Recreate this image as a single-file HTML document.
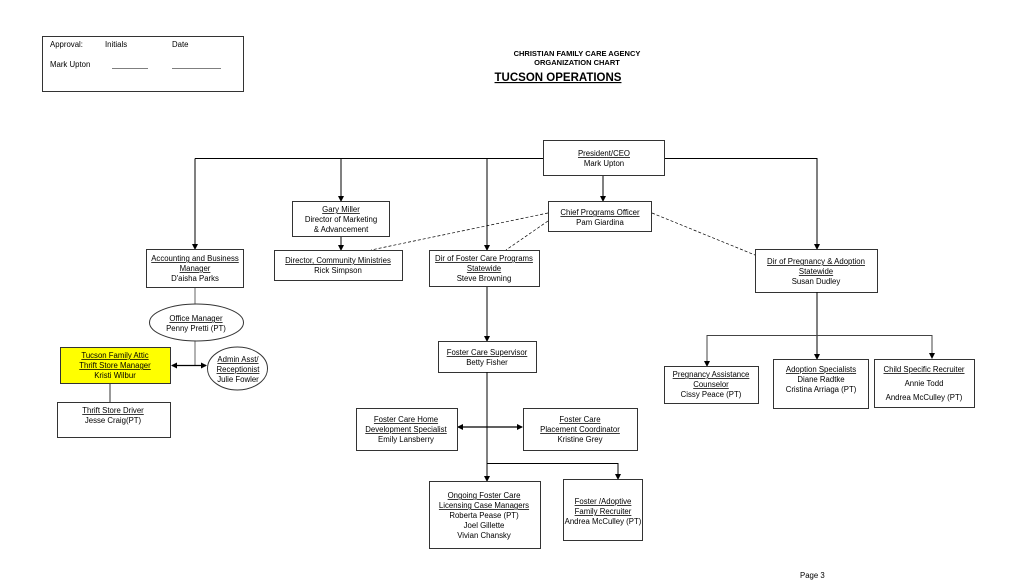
<!DOCTYPE html>
<html><head><meta charset="utf-8"><style>
html,body{margin:0;padding:0;background:#fff;}
svg{display:block;font-family:"Liberation Sans",Arial,sans-serif;}
text{font-size:7.8px;fill:#000;}
</style></head><body>
<svg width="1024" height="585" viewBox="0 0 1024 585" xmlns="http://www.w3.org/2000/svg">
<defs><marker id="a" markerWidth="6" markerHeight="6" refX="5" refY="3" orient="auto-start-reverse" markerUnits="userSpaceOnUse"><path d="M0,0 L6,3 L0,6 z" fill="#000"/></marker></defs>
<g fill="none" stroke="#000" stroke-width="1">
<rect x="42.5" y="36.5" width="201" height="55" stroke="#333"/>
<line x1="112" y1="68.5" x2="148" y2="68.5" stroke-width="0.6"/>
<line x1="172" y1="68.5" x2="221" y2="68.5" stroke-width="0.6"/>
<line x1="195" y1="158.5" x2="543" y2="158.5"/>
<polyline points="665,158.5 817,158.5 817,249" marker-end="url(#a)"/>
<line x1="195" y1="158.5" x2="195" y2="249" marker-end="url(#a)"/>
<line x1="341" y1="158.5" x2="341" y2="201" marker-end="url(#a)"/>
<line x1="487" y1="158.5" x2="487" y2="250" marker-end="url(#a)"/>
<line x1="603" y1="176" x2="603" y2="201" marker-end="url(#a)"/>
<line x1="341" y1="237" x2="341" y2="250" marker-end="url(#a)"/>
<line x1="487" y1="287" x2="487" y2="341" marker-end="url(#a)"/>
<g stroke-dasharray="3,2" stroke-width="0.7">
<line x1="548" y1="213" x2="371" y2="250"/>
<line x1="548" y1="221" x2="506" y2="250"/>
<line x1="652" y1="213" x2="755" y2="255"/>
</g>
<line x1="195" y1="287" x2="195" y2="304" stroke="#666"/>
<line x1="195" y1="341" x2="195" y2="365" stroke="#666"/>
<line x1="172" y1="365.5" x2="206" y2="365.5" marker-end="url(#a)" marker-start="url(#a)" stroke-width="1.2"/>
<line x1="110" y1="384" x2="110" y2="402" stroke="#333"/>
<ellipse cx="196.5" cy="322.5" rx="47" ry="18.5" stroke="#333"/>
<ellipse cx="237.5" cy="368.5" rx="30" ry="21.5" stroke="#333"/>
<rect x="60.5" y="347.5" width="110" height="36" fill="#ffff00" stroke="#333"/>
<rect x="57.5" y="402.5" width="113" height="35" stroke="#333"/>
<rect x="543.5" y="140.5" width="121" height="35" stroke="#333"/>
<rect x="292.5" y="201.5" width="97" height="35" stroke="#333"/>
<rect x="146.5" y="249.5" width="97" height="38" stroke="#333"/>
<rect x="274.5" y="250.5" width="128" height="30" stroke="#333"/>
<rect x="548.5" y="201.5" width="103" height="30" stroke="#333"/>
<rect x="429.5" y="250.5" width="110" height="36" stroke="#333"/>
<rect x="755.5" y="249.5" width="122" height="43" stroke="#333"/>
<rect x="438.5" y="341.5" width="98" height="31" stroke="#333"/>
<line x1="487" y1="372" x2="487" y2="481" marker-end="url(#a)"/>
<polyline points="487,463.5 618,463.5 618,479" marker-end="url(#a)"/>
<line x1="458" y1="427" x2="522" y2="427" marker-end="url(#a)" marker-start="url(#a)" stroke-width="1.2"/>
<rect x="356.5" y="408.5" width="101" height="42" stroke="#333"/>
<rect x="523.5" y="408.5" width="114" height="42" stroke="#333"/>
<rect x="429.5" y="481.5" width="111" height="67" stroke="#333"/>
<rect x="563.5" y="479.5" width="79" height="61" stroke="#333"/>
<line x1="817" y1="292" x2="817" y2="359" marker-end="url(#a)"/>
<polyline points="707,366 707,335.5 932,335.5 932,358" stroke="#444" marker-start="url(#a)" marker-end="url(#a)"/>
<rect x="664.5" y="366.5" width="94" height="37" stroke="#333"/>
<rect x="773.5" y="359.5" width="95" height="49" stroke="#333"/>
<rect x="874.5" y="359.5" width="100" height="48" stroke="#333"/>
</g>
<text x="50" y="47">Approval:</text><text x="105" y="47">Initials</text><text x="172" y="47">Date</text>
<text x="50" y="67">Mark Upton</text>
<g text-anchor="middle">
<text x="577" y="56" font-weight="bold" style="font-size:7.5px">CHRISTIAN FAMILY CARE AGENCY</text>
<text x="577" y="65" font-weight="bold" style="font-size:7.5px">ORGANIZATION CHART</text>
<text x="558" y="81" font-weight="bold" text-decoration="underline" style="font-size:11.5px">TUCSON OPERATIONS</text>
<g text-decoration="underline">
<text x="604" y="156">President/CEO</text>
<text x="341" y="212">Gary Miller</text>
<text x="600" y="215">Chief Programs Officer</text>
<text x="195" y="261">Accounting and Business</text>
<text x="195" y="271">Manager</text>
<text x="338" y="263">Director, Community Ministries</text>
<text x="484" y="261">Dir of Foster Care Programs</text>
<text x="484" y="271">Statewide</text>
<text x="816" y="264">Dir of Pregnancy &amp; Adoption</text>
<text x="816" y="274">Statewide</text>
<text x="196" y="321">Office Manager</text>
<text x="115" y="358">Tucson Family Attic</text>
<text x="115" y="368">Thrift Store Manager</text>
<text x="238" y="362">Admin Asst/</text>
<text x="238" y="372">Receptionist</text>
<text x="113" y="413">Thrift Store Driver</text>
<text x="487" y="355">Foster Care Supervisor</text>
<text x="406" y="422">Foster Care Home</text>
<text x="406" y="432">Development Specialist</text>
<text x="580" y="422">Foster Care</text>
<text x="580" y="432">Placement Coordinator</text>
<text x="484" y="498">Ongoing Foster Care</text>
<text x="484" y="508">Licensing Case Managers</text>
<text x="603" y="504">Foster /Adoptive</text>
<text x="603" y="514">Family Recruiter</text>
<text x="711" y="377">Pregnancy Assistance</text>
<text x="711" y="387">Counselor</text>
<text x="821" y="372">Adoption Specialists</text>
<text x="924" y="372">Child Specific Recruiter</text>
</g>
<text x="604" y="166">Mark Upton</text>
<text x="341" y="222">Director of Marketing</text>
<text x="341" y="232">&amp; Advancement</text>
<text x="600" y="225">Pam Giardina</text>
<text x="195" y="281">D'aisha Parks</text>
<text x="338" y="273">Rick Simpson</text>
<text x="484" y="281">Steve Browning</text>
<text x="816" y="284">Susan Dudley</text>
<text x="196" y="331">Penny Pretti (PT)</text>
<text x="115" y="378">Kristi Wilbur</text>
<text x="238" y="382">Julie Fowler</text>
<text x="113" y="423">Jesse Craig(PT)</text>
<text x="487" y="365">Betty Fisher</text>
<text x="406" y="442">Emily Lansberry</text>
<text x="580" y="442">Kristine Grey</text>
<text x="484" y="518">Roberta Pease (PT)</text>
<text x="484" y="528">Joel Gillette</text>
<text x="484" y="538">Vivian Chansky</text>
<text x="603" y="524">Andrea McCulley (PT)</text>
<text x="711" y="397">Cissy Peace (PT)</text>
<text x="821" y="382">Diane Radtke</text>
<text x="821" y="392">Cristina Arriaga (PT)</text>
<text x="924" y="386">Annie Todd</text>
<text x="924" y="400">Andrea McCulley (PT)</text>
</g>
<text x="800" y="578">Page 3</text>
</svg>
</body></html>
